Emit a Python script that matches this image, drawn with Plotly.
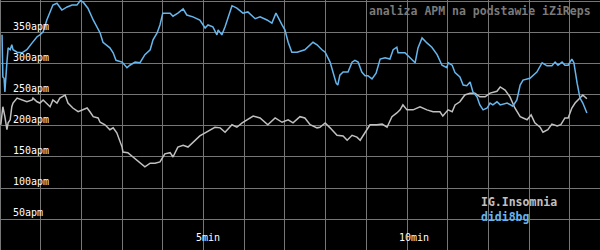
import plotly.graph_objects as go

# time in minutes, values in APM
blue_t = [0.05, 0.07, 0.10, 0.12, 0.17, 0.20, 0.25, 0.29, 0.32, 0.42, 0.54, 0.57, 0.66, 0.79, 0.91, 0.98,
          1.06, 1.15, 1.23, 1.30, 1.40, 1.52, 1.65, 1.77, 1.89, 1.97, 2.04, 2.16, 2.29, 2.46, 2.53, 2.70,
          2.78, 2.85, 3.00, 3.12, 3.19, 3.32, 3.44, 3.56, 3.69, 3.76, 3.86, 3.93, 4.00, 4.18, 4.25, 4.37,
          4.50, 4.59, 4.74, 4.91, 5.04, 5.11, 5.23, 5.33, 5.36, 5.45, 5.53, 5.60, 5.70, 5.82, 5.97, 6.09,
          6.27, 6.39, 6.56, 6.68, 6.78, 6.93, 7.00, 7.08, 7.17, 7.30, 7.49, 7.69, 7.79, 7.91, 7.99, 8.11,
          8.18, 8.26, 8.30, 8.35, 8.43, 8.55, 8.65, 8.72, 8.80, 8.89, 8.97, 9.04, 9.14, 9.24, 9.34, 9.46,
          9.58, 9.66, 9.75, 9.78, 9.95, 10.07, 10.20, 10.27, 10.37, 10.49, 10.61, 10.74, 10.86, 10.98, 11.01,
          11.11, 11.18, 11.30, 11.38, 11.47, 11.55, 11.62, 11.72, 11.79, 11.87, 11.97, 12.04, 12.11, 12.21,
          12.29, 12.46, 12.60, 12.70, 12.78, 12.85, 13.02, 13.10, 13.19, 13.32, 13.44, 13.56, 13.64, 13.71,
          13.81, 13.88, 13.96, 14.05, 14.10, 14.18, 14.25, 14.32, 14.42]
blue_v = [347, 279, 277, 255, 303, 326, 323, 331, 323, 319, 318, 319, 323, 334, 344, 347,
          352, 371, 384, 395, 398, 387, 392, 395, 395, 402, 400, 390, 371, 350, 335, 326,
          318, 306, 303, 294, 298, 303, 302, 315, 323, 339, 350, 363, 382, 382, 377, 382,
          389, 379, 376, 371, 358, 363, 360, 347, 355, 347, 360, 374, 394, 390, 382, 384,
          373, 376, 371, 366, 382, 363, 355, 335, 319, 319, 323, 335, 331, 323, 319, 303,
          287, 269, 266, 282, 287, 287, 303, 306, 303, 287, 281, 281, 276, 285, 308, 310,
          308, 323, 327, 318, 318, 311, 302, 326, 342, 334, 327, 315, 298, 294, 302,
          298, 286, 279, 266, 265, 271, 255, 247, 234, 226, 229, 237, 234, 239,
          234, 237, 232, 242, 266, 274, 277, 282, 287, 302, 297, 297, 303, 298,
          303, 298, 298, 308, 302, 269, 245, 237, 221]

gray_t = [0.02, 0.05, 0.07, 0.12, 0.17, 0.20, 0.25, 0.29, 0.32, 0.42, 0.54, 0.66, 0.79, 0.81, 0.91, 0.98,
          1.06, 1.15, 1.23, 1.30, 1.40, 1.47, 1.60, 1.67, 1.79, 1.92, 2.01, 2.14, 2.21, 2.29, 2.41, 2.46,
          2.58, 2.70, 2.78, 2.87, 3.00, 3.02, 3.14, 3.27, 3.39, 3.56, 3.69, 3.81, 3.93, 4.05, 4.18, 4.25,
          4.37, 4.50, 4.62, 4.74, 4.91, 5.04, 5.16, 5.28, 5.41, 5.53, 5.70, 5.82, 5.95, 6.07, 6.22, 6.39,
          6.58, 6.76, 6.93, 7.08, 7.20, 7.37, 7.49, 7.62, 7.79, 7.86, 7.99, 8.11, 8.28, 8.43, 8.53, 8.65,
          8.77, 8.85, 8.97, 9.09, 9.26, 9.39, 9.51, 9.63, 9.75, 9.83, 9.90, 10.00, 10.15, 10.32, 10.49,
          10.64, 10.81, 10.88, 11.01, 11.11, 11.18, 11.30, 11.42, 11.55, 11.67, 11.79, 11.92, 12.04, 12.21,
          12.29, 12.41, 12.53, 12.65, 12.78, 12.95, 13.05, 13.14, 13.27, 13.34, 13.46, 13.56, 13.69, 13.78,
          13.88, 13.96, 14.05, 14.13, 14.25, 14.32, 14.42]
gray_v = [202, 229, 231, 215, 194, 205, 210, 231, 237, 245, 242, 239, 242, 245, 239, 237,
          242, 237, 231, 242, 237, 245, 250, 237, 229, 223, 226, 229, 223, 215, 213, 206,
          202, 194, 197, 189, 166, 158, 157, 150, 142, 134, 140, 140, 142, 155, 157, 150,
          166, 169, 166, 174, 184, 189, 194, 198, 197, 190, 202, 198, 205, 210, 216, 213,
          202, 213, 206, 210, 205, 215, 213, 202, 197, 198, 205, 197, 185, 184, 177, 185,
          182, 177, 189, 202, 202, 203, 198, 215, 221, 226, 234, 226, 226, 231, 226,
          223, 223, 216, 226, 223, 234, 239, 250, 253, 253, 247, 247, 253, 256,
          263, 258, 247, 229, 215, 210, 218, 205, 198, 190, 194, 203, 200, 202,
          213, 213, 229, 237, 245, 250, 244]

y_ticks = [50, 100, 150, 200, 250, 300, 350]
y_labels = ["50apm", "100apm", "150apm", "200apm", "250apm", "300apm", "350apm"]
x_ticks = [5, 10]
x_labels = ["5min", "10min"]
players = ["IG.Insomnia", "didi8bg"]
title = "analiza APM na podstawie iZiReps"

BLUE = "#66b6ee"
GRAY = "#c0c0c0"
GRID = "#767676"

fig = go.Figure()
fig.add_trace(go.Scatter(x=gray_t, y=gray_v, mode="lines", line=dict(color=GRAY, width=1.5),
                         hoverinfo="skip"))
fig.add_trace(go.Scatter(x=blue_t, y=blue_v, mode="lines", line=dict(color=BLUE, width=1.5),
                         hoverinfo="skip"))

annotations = []
for v, lab in zip(y_ticks, y_labels):
    annotations.append(dict(x=0, y=v, xref="x", yref="y", text=lab, showarrow=False,
                            xanchor="left", yanchor="bottom", xshift=11, yshift=-1,
                            font=dict(family="DejaVu Sans Mono", size=10, color="white")))
for t, lab in zip(x_ticks, x_labels):
    annotations.append(dict(x=t, y=0, xref="x", yref="y", text=lab, showarrow=False,
                            xanchor="left", yanchor="middle", xshift=-10, yshift=13,
                            font=dict(family="DejaVu Sans Mono", size=10, color="white")))
annotations.append(dict(x=593 / 600, y=1, xref="paper", yref="paper", text="<b>" + title + "</b>",
                        showarrow=False, xanchor="right", yanchor="middle", yshift=-11,
                        font=dict(family="DejaVu Sans Mono", size=11.5, color="#7a7a7a")))
for i, (p, c) in enumerate(zip(players, [GRAY, BLUE])):
    annotations.append(dict(x=479 / 600, y=1, xref="paper", yref="paper", text="<b>" + p + "</b>",
                            showarrow=False, xanchor="left", yanchor="middle",
                            yshift=-(202 + 15 * i),
                            font=dict(family="DejaVu Sans Mono", size=11.5, color=c)))

fig.update_layout(
    width=600, height=250,
    margin=dict(l=0, r=0, t=0, b=0),
    paper_bgcolor="black", plot_bgcolor="black",
    showlegend=False,
    annotations=annotations,
    xaxis=dict(range=[0, 600 / 40.7], dtick=1, tick0=0, showgrid=True, gridcolor=GRID, gridwidth=1,
               zeroline=True, zerolinecolor=GRID, zerolinewidth=1, showticklabels=False,
               fixedrange=True),
    yaxis=dict(range=[0, 403.2], dtick=50, tick0=0, showgrid=True, gridcolor=GRID, gridwidth=1,
               zeroline=False, showticklabels=False, fixedrange=True),
)

fig.write_html("out.html", config={"displayModeBar": False})
